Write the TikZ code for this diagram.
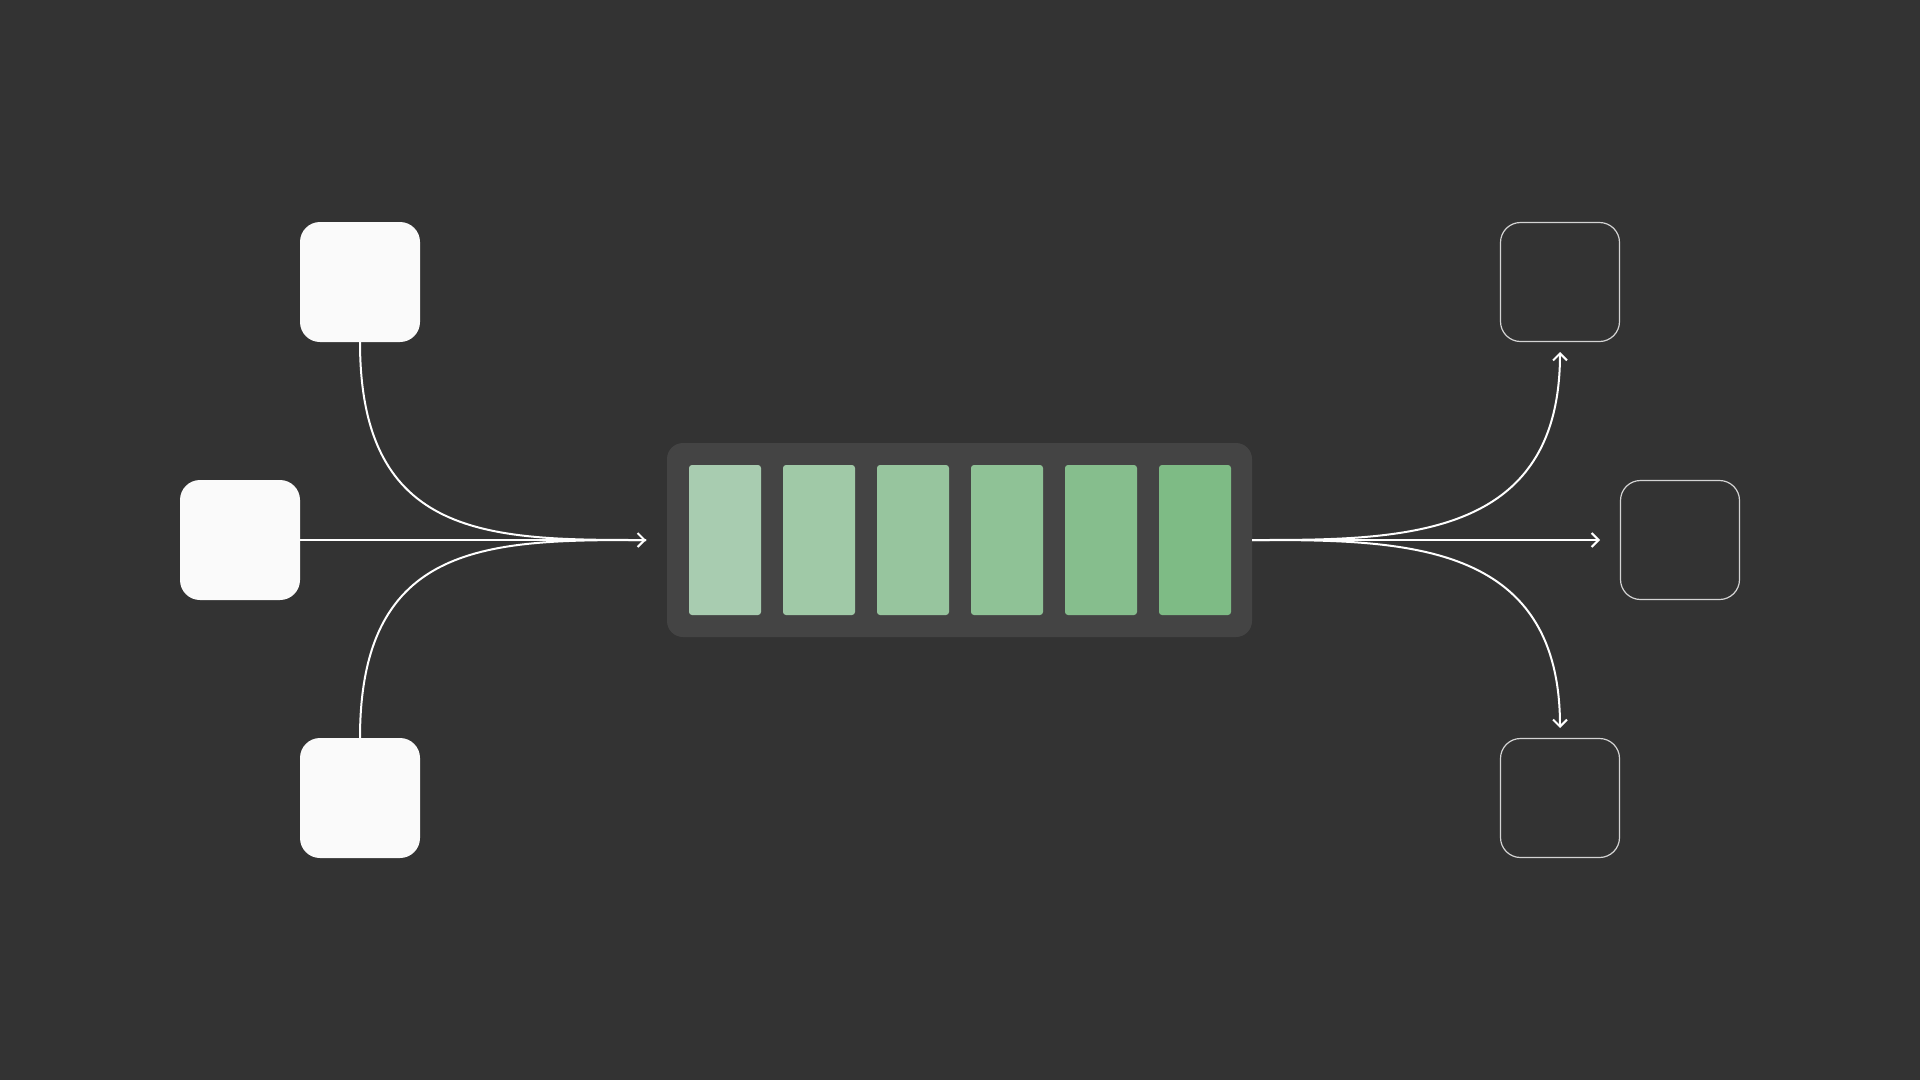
\documentclass[tikz,border=0pt]{standalone}
\usetikzlibrary{arrows.meta}
\definecolor{bg}{HTML}{333333}
\definecolor{cont}{HTML}{444444}
\definecolor{boxfill}{HTML}{FAFAFA}
\definecolor{outl}{HTML}{D4D4D4}
\definecolor{gA}{RGB}{168,204,176}
\definecolor{gB}{RGB}{160,201,167}
\definecolor{gC}{RGB}{151,197,158}
\definecolor{gD}{RGB}{143,194,150}
\definecolor{gE}{RGB}{134,190,141}
\definecolor{gF}{RGB}{126,187,133}
\begin{document}
\begin{tikzpicture}[x=1pt,y=-1pt,
  srcbox/.style={draw=none, fill=boxfill, rounded corners=20pt, minimum width=120pt, minimum height=120pt, inner sep=0pt, outer sep=0pt},
  dstbox/.style={draw=outl, line width=1.2pt, rounded corners=20pt, minimum width=119pt, minimum height=119pt, inner sep=0pt, outer sep=0pt},
  queuebox/.style={fill=cont, rounded corners=16pt, minimum width=585pt, minimum height=194pt, inner sep=0pt, outer sep=0pt},
  bar/.style={rounded corners=3pt, minimum width=72pt, minimum height=150pt, inner sep=0pt},
  plain/.style={draw=white, line width=2pt},
  link/.style={draw=white, line width=2pt, -{Straight Barb[length=7pt,width=14pt]}}]
\fill[bg] (0,0) rectangle (1920,1080);
\useasboundingbox (0,0) rectangle (1920,1080);
% sources
\node[srcbox] (s1) at (360,282) {};
\node[srcbox] (s2) at (240,540) {};
\node[srcbox] (s3) at (360,798) {};
% queue
\node[queuebox] (q) at (959.5,540) {};
\node[bar, fill=gA] (b1) at (725,540) {};
\node[bar, fill=gB] (b2) at (819,540) {};
\node[bar, fill=gC] (b3) at (913,540) {};
\node[bar, fill=gD] (b4) at (1007,540) {};
\node[bar, fill=gE] (b5) at (1101,540) {};
\node[bar, fill=gF] (b6) at (1195,540) {};
% destinations
\node[dstbox] (d1) at (1560,282) {};
\node[dstbox] (d2) at (1680,540) {};
\node[dstbox] (d3) at (1560,798) {};
% tips
\coordinate (inT) at (646,540);
\coordinate (upT) at (1560,352);
\coordinate (midT) at (1600,540);
\coordinate (dnT) at (1560,728);
% incoming
\draw[plain] (s1.south) .. controls (360,540) and (490,540) .. (inT);
\draw[plain] (s3.north) .. controls (360,540) and (490,540) .. (inT);
\draw[link] (s2.east) -- (inT);
% outgoing
\draw[link] (q.east) .. controls (1402,540) and (1560,540) .. (upT);
\draw[link] (q.east) .. controls (1402,540) and (1560,540) .. (dnT);
\draw[link] (q.east) -- (midT);
\end{tikzpicture}
\end{document}
